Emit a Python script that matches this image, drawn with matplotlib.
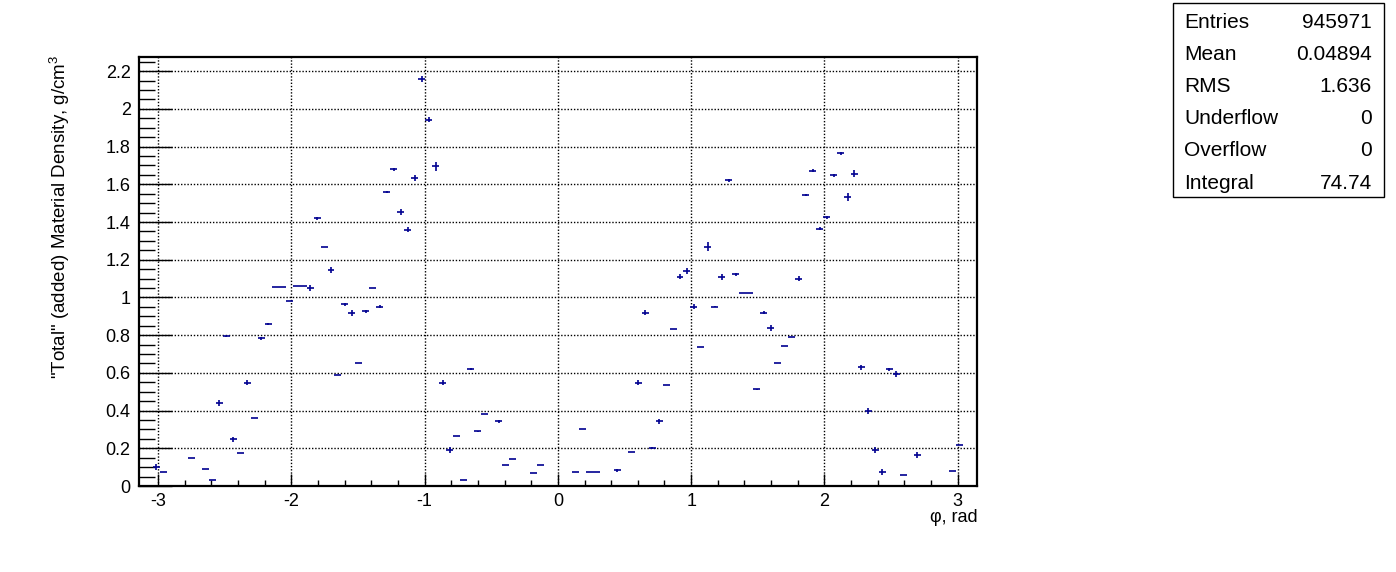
import numpy as np
import matplotlib.pyplot as plt
from matplotlib.patches import Rectangle

plt.rcParams['font.family'] = ['Liberation Sans', 'DejaVu Sans']
plt.rcParams['mathtext.fontset'] = 'custom'
plt.rcParams['mathtext.rm'] = 'Liberation Sans'

# 120 bins over [-pi, pi]; bin contents and errors
n_bins = 120
content = [
    0, 0, 0.101, 0.073, 0, 0, 0, 0.148, 0, 0.090,
    0.030, 0.440, 0.795, 0.247, 0.173, 0.549, 0.359, 0.783, 0.859, 1.053,
    1.058, 0.980, 1.063, 1.063, 1.051, 1.419, 1.265, 1.145, 0.588, 0.963,
    0.917, 0.650, 0.927, 1.048, 0.952, 1.558, 1.680, 1.454, 1.360, 1.632,
    2.157, 1.943, 1.696, 0.549, 0.191, 0.263, 0.030, 0.620, 0.290, 0.380,
    0, 0.344, 0.110, 0.143, 0, 0, 0.067, 0.110, 0, 0,
    0, 0, 0.073, 0.300, 0.073, 0.073, 0, 0, 0.083, 0,
    0.178, 0.549, 0.920, 0.203, 0.343, 0.534, 0.832, 1.111, 1.139, 0.952,
    0.735, 1.270, 0.952, 1.109, 1.622, 1.122, 1.021, 1.021, 0.512, 0.920,
    0.837, 0.650, 0.742, 0.790, 1.100, 1.542, 1.673, 1.364, 1.425, 1.647,
    1.765, 1.532, 1.657, 0.629, 0.397, 0.191, 0.073, 0.618, 0.595, 0.057,
    0, 0.163, 0, 0, 0, 0, 0.078, 0.216, 0, 0,
]
errors = [
    0, 0, 0.015, 0, 0, 0, 0, 0, 0, 0,
    0, 0.015, 0.003, 0.015, 0, 0.015, 0, 0.008, 0.004, 0,
    0, 0, 0, 0, 0.015, 0.008, 0, 0.015, 0, 0.008,
    0.015, 0, 0.008, 0, 0.008, 0.004, 0.008, 0.015, 0.015, 0.015,
    0.015, 0.015, 0.024, 0.015, 0.015, 0, 0, 0.004, 0.004, 0,
    0, 0.008, 0, 0, 0, 0, 0, 0, 0, 0,
    0, 0, 0, 0, 0, 0, 0, 0, 0.008, 0,
    0, 0.015, 0.015, 0.004, 0.015, 0, 0, 0.015, 0.015, 0.015,
    0, 0.024, 0.004, 0.015, 0.008, 0.008, 0, 0, 0.004, 0.008,
    0.015, 0, 0, 0, 0.015, 0.004, 0.008, 0.008, 0.008, 0.008,
    0.008, 0.02, 0.018, 0.015, 0.015, 0.015, 0.015, 0.008, 0.015, 0,
    0, 0.015, 0, 0, 0, 0, 0, 0, 0, 0,
]
stats_names = ["Entries", "Mean", "RMS", "Underflow", "Overflow", "Integral"]
stats_values = ["945971", "0.04894", "1.636", "0", "0", "74.74"]

content = np.array(content)
errors = np.array(errors)
edges = np.linspace(-np.pi, np.pi, n_bins + 1)
centers = 0.5 * (edges[:-1] + edges[1:])
half_w = 0.5 * (edges[1] - edges[0])
filled = content > 0

fig = plt.figure(figsize=(13.96, 5.72), dpi=100)
ax = fig.add_axes([0.0996, 0.1503, 0.6, 0.75])

navy = "#000090"
ax.errorbar(centers[filled], content[filled], xerr=half_w, yerr=errors[filled],
            fmt="none", ecolor=navy, elinewidth=1.2, capsize=0)

ax.set_xlim(-np.pi, np.pi)
ax.set_ylim(0, 2.275)
ax.set_xticks(np.arange(-3, 4, 1))
ax.set_xticks(np.arange(-3.0, 3.01, 0.2), minor=True)
ax.set_yticks(np.arange(0, 2.21, 0.2))
ax.set_yticks(np.arange(0, 2.26, 0.05), minor=True)
ax.set_xticklabels(["-3", "-2", "-1", "0", "1", "2", "3"])
ax.set_yticklabels(["0", "0.2", "0.4", "0.6", "0.8", "1", "1.2", "1.4",
                    "1.6", "1.8", "2", "2.2"])

ax.tick_params(axis="both", which="both", direction="in", labelsize=13, width=1)
ax.tick_params(axis="y", which="major", length=23.5, pad=6)
ax.tick_params(axis="y", which="minor", length=11.5)
ax.tick_params(axis="x", which="major", length=8.5, pad=5)
ax.tick_params(axis="x", which="minor", length=4)
for s in ax.spines.values():
    s.set_linewidth(1.6)

ax.grid(True, which="major", linestyle=(0, (1, 1.3)), color="black", linewidth=1)

fig.text(0.700, 1 - 517 / 572, "φ, rad", ha="right", va="center", fontsize=13)
fig.text(0.043, 1 - 55 / 572, '"Total" (added) Material Density, g/cm$^{3}$',
         rotation=90, ha="center", va="top", fontsize=13.5)

# stats box
box = Rectangle((1173 / 1396, 1 - 197 / 572), 211 / 1396, 194 / 572,
                transform=fig.transFigure, facecolor="white", edgecolor="black",
                linewidth=1)
fig.patches.append(box)
ys = [22, 54, 87, 119, 151, 183]
for name, val, y in zip(stats_names, stats_values, ys):
    fig.text(1184 / 1396, 1 - y / 572, name, ha="left", va="center", fontsize=15)
    fig.text(1372 / 1396, 1 - y / 572, val, ha="right", va="center", fontsize=15)

fig.savefig("out.png", dpi=100)
